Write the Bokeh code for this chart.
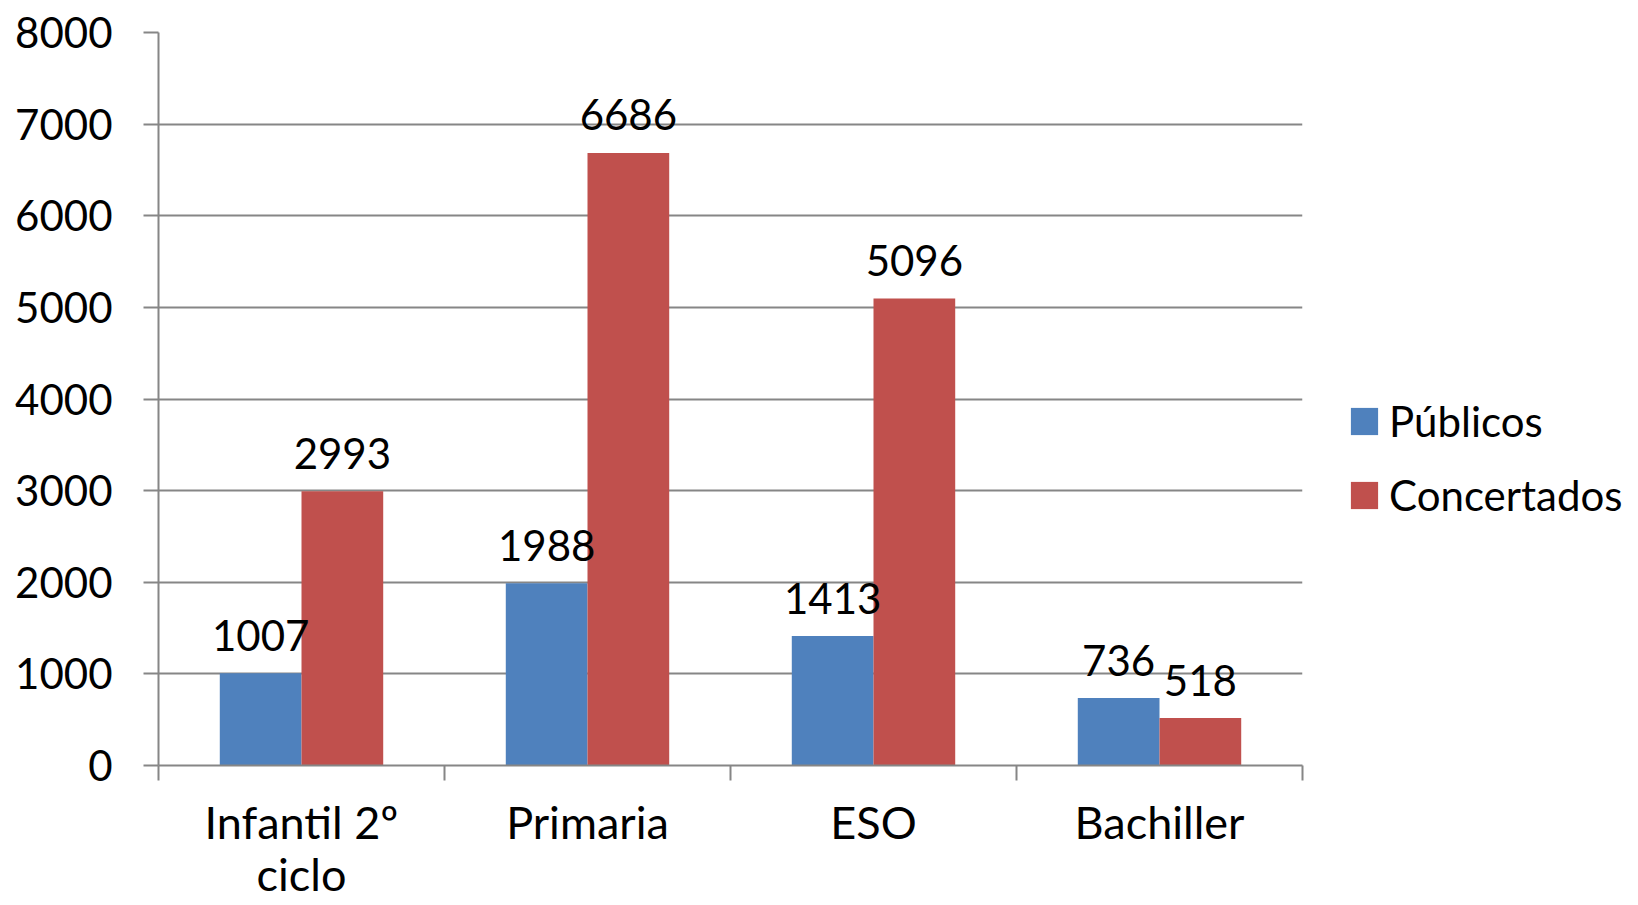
import numpy as np
from bokeh.plotting import figure
from bokeh.models import (ColumnDataSource, Range1d, FixedTicker, Legend, LegendItem)
from bokeh.core.properties import value
from bokeh.embed import file_html
from bokeh.resources import INLINE

categories = ["Infantil 2º\nciclo", "Primaria", "ESO", "Bachiller"]
publicos = [1007, 1988, 1413, 736]
concertados = [2993, 6686, 5096, 518]
y_ticks = [0, 1000, 2000, 3000, 4000, 5000, 6000, 7000, 8000]

FONT = "Lato"
FS = "42px"
BLUE = "#4F81BD"
RED = "#C0504D"
GRID = "#868686"

n = len(categories)
centers = np.arange(n) + 0.5
bw = 1 / 3.5

p = figure(width=1630, height=905, output_backend="svg", toolbar_location=None,
           x_range=Range1d(0, n), y_range=Range1d(0, 8000),
           min_border_left=158, min_border_right=328, min_border_top=32, min_border_bottom=140)
p.frame_width = 1144
p.frame_height = 733
p.outline_line_color = None
p.background_fill_color = "white"
p.border_fill_color = "white"

src_b = ColumnDataSource(dict(x=centers - bw / 2, top=publicos, lab=[str(v) for v in publicos]))
src_r = ColumnDataSource(dict(x=centers + bw / 2, top=concertados, lab=[str(v) for v in concertados]))

rb = p.vbar(x="x", top="top", bottom=0, width=bw, source=src_b, fill_color=BLUE, line_color=None)
rr = p.vbar(x="x", top="top", bottom=0, width=bw, source=src_r, fill_color=RED, line_color=None)

for s in (src_b, src_r):
    p.text(x="x", y="top", text="lab", source=s, text_align="center", text_baseline="alphabetic",
           y_offset=-38, text_font=value(FONT), text_font_size=FS, text_color="black")

# axes
p.xgrid.visible = False
p.ygrid.grid_line_color = GRID
p.ygrid.grid_line_width = 2
p.yaxis.ticker = FixedTicker(ticks=y_ticks)
p.yaxis.axis_line_color = GRID
p.yaxis.axis_line_width = 2
p.yaxis.major_tick_line_color = GRID
p.yaxis.major_tick_line_width = 2
p.yaxis.major_tick_out = 15
p.yaxis.major_tick_in = 0
p.yaxis.minor_tick_line_color = None
p.yaxis.major_label_standoff = 31
p.yaxis.major_label_text_font = FONT
p.yaxis.major_label_text_font_size = FS
p.yaxis.major_label_text_color = "black"

p.xaxis.ticker = FixedTicker(ticks=list(centers), minor_ticks=list(range(n + 1)))
p.xaxis.major_label_overrides = {float(c): lab for c, lab in zip(centers, categories)}
p.xaxis.axis_line_color = GRID
p.xaxis.axis_line_width = 2
p.xaxis.major_tick_line_color = None
p.xaxis.minor_tick_line_color = GRID
p.xaxis.minor_tick_line_width = 2
p.xaxis.minor_tick_out = 15
p.xaxis.minor_tick_in = 0
p.xaxis.major_tick_out = 0
p.xaxis.major_label_standoff = 14
p.xaxis.major_label_text_font = FONT
p.xaxis.major_label_text_font_size = "45px"
p.xaxis.major_label_text_color = "black"
p.xaxis.major_label_text_line_height = 0.98

legend = Legend(items=[LegendItem(label="Públicos", renderers=[rb]),
                       LegendItem(label="Concertados", renderers=[rr])],
                location=(45, 245), orientation="vertical",
                glyph_width=34, glyph_height=34, label_text_font=FONT, label_text_font_size=FS,
                label_text_color="black",
                label_standoff=8, spacing=24, padding=0, margin=0,
                border_line_color=None, background_fill_alpha=0, label_height=48)
p.add_layout(legend, "right")

open("out.html", "w").write(file_html(p, INLINE))
